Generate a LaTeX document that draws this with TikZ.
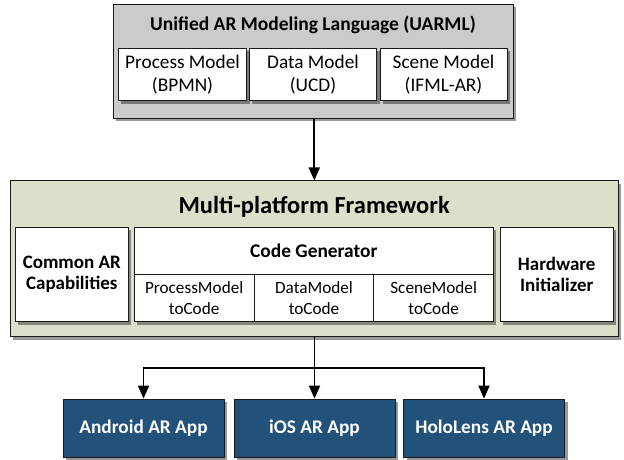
\documentclass[tikz,border=0pt]{standalone}
\usepackage{fontspec}
\setmainfont{Carlito}
\usetikzlibrary{shadows,arrows.meta}
\definecolor{uarmlgray}{HTML}{CBCBCB}
\definecolor{fwbeige}{HTML}{DEDFCA}
\definecolor{appblue}{HTML}{22527A}
\definecolor{edge}{HTML}{1A1A1A}
\tikzset{
  shad/.style={drop shadow={shadow xshift=3pt,shadow yshift=-3pt,opacity=0.4,fill=black}},
  box/.style={draw=edge,line width=1pt,fill=white,inner sep=0pt,align=center,shad},
  outer/.style={draw=edge,line width=1pt,inner sep=0pt,shad},
  appbox/.style={draw=edge,line width=1pt,fill=appblue,text=white,inner sep=0pt,align=center,shad,
     minimum width=161pt,minimum height=58.7pt,font=\fontsize{19.3}{22}\selectfont\bfseries},
  sub/.style={draw=edge,line width=0.8pt,inner sep=0pt,align=center,minimum width=119.7pt,minimum height=47.7pt,
     font=\fontsize{17.2}{21}\selectfont},
  ttl/.style={anchor=base,inner sep=0pt},
  arr/.style={line width=1.9pt,-{Triangle[width=11pt,length=13pt]}},
  ln/.style={line width=1.9pt}
}
\begin{document}
\begin{tikzpicture}[x=1pt,y=-1pt]
\path[use as bounding box] (0,0) rectangle (624,459);
% UARML
\node[outer,fill=uarmlgray,minimum width=400pt,minimum height=114pt] (uarml) at (313,61) {};
\node[ttl,font=\fontsize{19.5}{22}\selectfont\bfseries] (uarmlt) at (313,30.7) {Unified AR Modeling Language (UARML)};
\node[box,minimum width=128.4pt,minimum height=52.4pt,font=\fontsize{19.3}{22.4}\selectfont] (pm) at (182.5,74.5) {Process Model\\(BPMN)};
\node[box,minimum width=127.4pt,minimum height=52.4pt,font=\fontsize{19.3}{22.4}\selectfont] (dm) at (313,74.5) {Data Model\\(UCD)};
\node[box,minimum width=127pt,minimum height=52.4pt,font=\fontsize{19.3}{22.4}\selectfont] (sm) at (443.5,74.5) {Scene Model\\(IFML-AR)};
% Framework
\node[outer,fill=fwbeige,minimum width=608.3pt,minimum height=155.7pt] (fw) at (314.2,258.8) {};
\node[ttl,font=\fontsize{24.5}{26}\selectfont\bfseries] (fwt) at (314.2,213.3) {Multi-platform Framework};
\node[box,minimum width=113pt,minimum height=94.4pt,font=\fontsize{19}{21}\selectfont\bfseries] (car) at (71.8,274.5) {Common AR\\Capabilities};
\node[box,minimum width=359pt,minimum height=94.4pt] (cg) at (313.8,274.5) {};
\node[ttl,font=\fontsize{19.4}{22}\selectfont\bfseries] (cgt) at (313.8,257.3) {Code Generator};
\node[sub] (pc) at (194.15,297.85) {ProcessModel\\toCode};
\node[sub] (dc) at (314,297.85) {DataModel\\toCode};
\node[sub] (sc) at (433.65,297.85) {SceneModel\\toCode};
\node[box,minimum width=113.3pt,minimum height=94.4pt,font=\fontsize{19}{21}\selectfont\bfseries] (hw) at (556.7,274.5) {Hardware\\Initializer};
% Apps
\node[appbox] (android) at (143.5,428.4) {Android AR App};
\node[appbox] (ios) at (314.5,428.4) {iOS AR App};
\node[appbox] (holo) at (484,428.4) {HoloLens AR App};
% connectors
\draw[arr] (314.3,0 |- uarml.south) -- (314.3,0 |- fw.north);
\coordinate (split) at (314.5,368);
\draw[arr] (ios.north |- fw.south) -- (ios.north);
\draw[arr] (split) -| (android.north);
\draw[arr] (split) -| (holo.north);
\end{tikzpicture}
\end{document}
